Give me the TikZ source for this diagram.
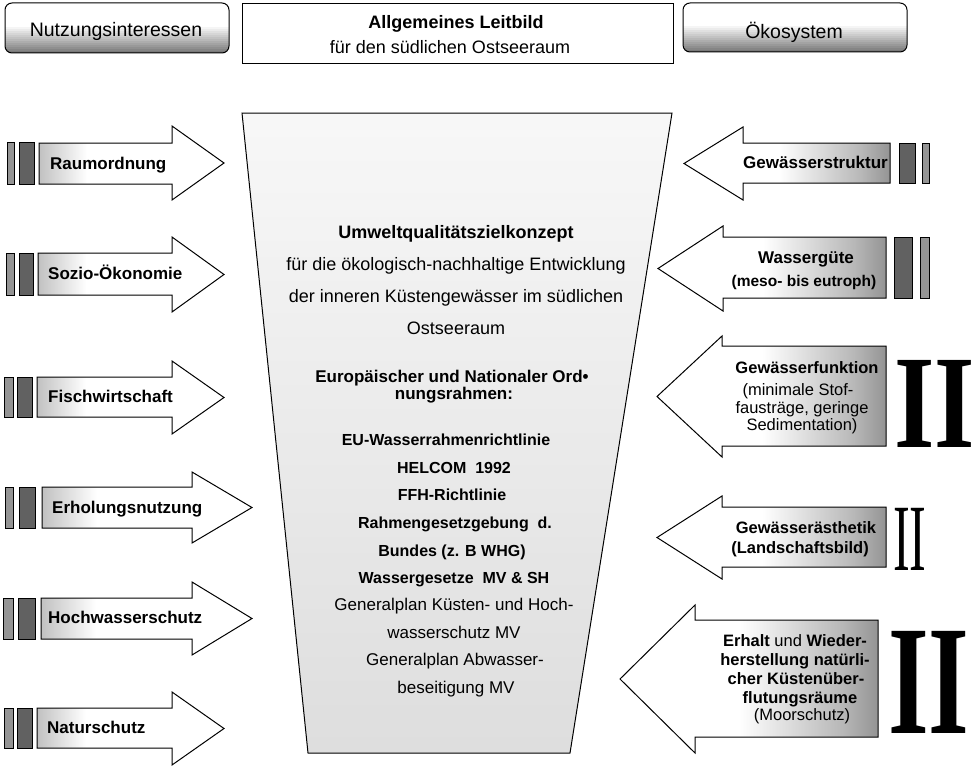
\documentclass[tikz,border=0pt]{standalone}
\usepackage{fontspec}
\setmainfont{Liberation Sans}
\newfontfamily\romanI{Liberation Serif}

% fills: dark edge fading to white, used for the arrows
\pgfdeclarehorizontalshading{fadeleft}{100bp}{color(0bp)=(black!85); color(9bp)=(black!65); color(22bp)=(black!30); color(38bp)=(white); color(100bp)=(white)}
\pgfdeclarehorizontalshading{faderight}{100bp}{color(0bp)=(white); color(48bp)=(white); color(68bp)=(black!28); color(85bp)=(black!62); color(100bp)=(black!82)}

% block arrow pointing right: shaft x0, head base x, tip x, shaft top, shaft bottom, head top, head bottom
\newcommand\pointright[7]{%
  \shadedraw[outline, shading=fadeleft] (#1,#4) -- (#2,#4) -- (#2,#6) -- (#3,{(#6+#7)/2}) -- (#2,#7) -- (#2,#5) -- (#1,#5) -- cycle;}
% block arrow pointing left: shaft right x, head base x, tip x, shaft top, shaft bottom, head top, head bottom
\newcommand\pointleft[7]{%
  \shadedraw[outline, shading=faderight] (#1,#4) -- (#2,#4) -- (#2,#6) -- (#3,{(#6+#7)/2}) -- (#2,#7) -- (#2,#5) -- (#1,#5) -- cycle;}
% rounded header box, white above and darkening towards its lower edge
\newcommand\headerbox[4]{% left, top, right, bottom
  \begin{scope}
    \clip[rounded corners=7pt] (#1,#2) rectangle (#3,#4);
    \fill[white] (#1,#2) rectangle (#3,#4);
    \foreach \i in {0,...,13}{%
      \pgfmathtruncatemacro\g{4*\i}%
      \fill[black!\g] (#1,{#4-28+2*\i}) rectangle (#3,{#4-25.5+2*\i});}
  \end{scope}
  \draw[outline, rounded corners=7pt] (#1,#2) rectangle (#3,#4);}

\begin{document}
\begin{tikzpicture}[x=1pt,y=-1pt,
  outline/.style={draw=black, line width=1pt, line join=miter},
  bar/.style={draw=black, line width=0.8pt},
  darkbar/.style={bar, fill=black!62},
  lightbar/.style={bar, fill=black!42},
  txt/.style={inner sep=0pt, anchor=base},
  arrowtext/.style={txt, font=\bfseries\fontsize{17}{19}\selectfont},
  sidebold/.style={txt, font=\bfseries\fontsize{16.5}{19}\selectfont},
  sidetext/.style={txt, font=\fontsize{16.5}{19}\selectfont},
  headbold/.style={txt, font=\bfseries\fontsize{18}{20}\selectfont},
  headtext/.style={txt, font=\fontsize{18}{20}\selectfont},
  listbold/.style={txt, font=\bfseries\fontsize{16}{18}\selectfont},
  listtext/.style={txt, font=\fontsize{17}{19}\selectfont},
  numeral/.style={inner sep=0pt, anchor=base west}
]
\useasboundingbox (0,0) rectangle (976,768);

% header row
\headerbox{5}{3}{229}{53}
\node[txt, font=\fontsize{19.5}{22}\selectfont] (nutz) at (116,37) {Nutzungsinteressen};
\draw[outline, fill=white] (242,4) rectangle (673,63);
\node[headbold] (leitA) at (456,29) {Allgemeines Leitbild};
\node[headtext] (leitB) at (450,53) {für den südlichen Ostseeraum};
\headerbox{683}{3}{907}{52}
\node[txt, font=\fontsize{19.5}{22}\selectfont] (oeko) at (794,38) {Ökosystem};

% central funnel, very light grey getting slightly darker downwards
\begin{scope}
  \clip (242,113) -- (672,113) -- (570,753) -- (308,753) -- cycle;
  \foreach \i in {0,...,79}{%
    \pgfmathsetmacro\g{3+10*\i/79}%
    \fill[black!\g] (230,{113+8*\i}) rectangle (690,{121.5+8*\i});}
\end{scope}
\draw[outline] (242,113) -- (672,113) -- (570,753) -- (308,753) -- cycle;
\node[headbold] (f1) at (456,238) {Umweltqualitätszielkonzept};
\node[headtext] (f2) at (456,270) {für die ökologisch-nachhaltige Entwicklung};
\node[headtext] (f3) at (456,302) {der inneren Küstengewässer im südlichen};
\node[headtext] (f4) at (456,334) {Ostseeraum};
\node[txt, font=\bfseries\fontsize{17}{19}\selectfont] (f5) at (452,382) {Europäischer und Nationaler Ord•};
\node[txt, font=\bfseries\fontsize{17}{19}\selectfont] (f6) at (454,399) {nungsrahmen:};
\node[listbold] (f7) at (446,445) {EU-Wasserrahmenrichtlinie};
\node[listbold] (f8) at (454,473) {HELCOM\ \ 1992};
\node[listbold] (f9) at (452,500) {FFH-Richtlinie};
\node[listbold] (f10) at (455,528) {Rahmengesetzgebung\ \ d.};
\node[listbold] (f11) at (452,556) {Bundes (z. B WHG)};
\node[listbold] (f12) at (454,583) {Wassergesetze\ \ MV \& SH};
\node[listtext] (f13) at (454,610) {Generalplan Küsten- und Hoch-};
\node[listtext] (f14) at (454,638) {wasserschutz MV};
\node[listtext] (f15) at (455,665) {Generalplan Abwasser-};
\node[listtext] (f16) at (456,693) {beseitigung MV};

% interests: arrows pointing into the funnel
\pointright{39}{172}{224}{143}{184}{126}{200}
\draw[lightbar] (7,142) rectangle (14,184);
\draw[darkbar] (19,142) rectangle (34,184);
\node[arrowtext, anchor=base west] (raum) at (50,169) {Raumordnung};

\pointright{38}{172}{224}{253}{295}{237}{312}
\draw[lightbar] (6,253) rectangle (14,295);
\draw[darkbar] (19,253) rectangle (33,295);
\node[arrowtext, anchor=base west] (sozio) at (48,279) {Sozio-Ökonomie};

\pointright{37}{172}{224}{377}{417}{361}{434}
\draw[lightbar] (4,377) rectangle (13,417);
\draw[darkbar] (17,377) rectangle (32,417);
\node[arrowtext, anchor=base west] (fisch) at (48,402) {Fischwirtschaft};

\pointright{42}{192}{252}{487}{528}{472}{543}
\draw[lightbar] (5,487) rectangle (13,528);
\draw[darkbar] (19,487) rectangle (35,528);
\node[arrowtext, anchor=base west] (erhol) at (52,513) {Erholungsnutzung};

\pointright{41}{192}{252}{598}{639}{582}{655}
\draw[lightbar] (3,598) rectangle (13,639);
\draw[darkbar] (18,598) rectangle (35,639);
\node[arrowtext, anchor=base west] (hoch) at (48,623) {Hochwasserschutz};

\pointright{37}{172}{224}{708}{748}{692}{765}
\draw[lightbar] (4,708) rectangle (13,748);
\draw[darkbar] (17,708) rectangle (32,748);
\node[arrowtext, anchor=base west] (natur) at (47,733) {Naturschutz};

% ecosystem: arrows pointing into the funnel
\pointleft{890}{743}{684}{143}{183}{127}{200}
\draw[darkbar] (899,143) rectangle (915,183);
\draw[lightbar] (922,143) rectangle (929,183);
\node[arrowtext, anchor=base east] (struk) at (888,168) {Gewässerstruktur};

\pointleft{886}{723}{658}{237}{298}{226}{311}
\draw[darkbar] (894,237) rectangle (912,298);
\draw[lightbar] (920,237) rectangle (929,298);
\node[arrowtext] (gueteA) at (806,263) {Wassergüte};
\node[txt, font=\bfseries\fontsize{15.5}{18}\selectfont] (gueteB) at (804,286) {(meso- bis eutroph)};

\pointleft{886}{722}{657}{346}{446}{336}{457}
\node[sidebold] (funkA) at (807,373) {Gewässerfunktion};
\node[sidetext] (funkB) at (798,395) {(minimale Stof-};
\node[sidetext] (funkC) at (802,413) {fausträge, geringe};
\node[sidetext] (funkD) at (802,430) {Sedimentation)};
\node[numeral] (romA) at (894,447) {\scalebox{0.78}[1]{\romanI\bfseries\fontsize{133}{133}\selectfont II}};

\pointleft{886}{722}{657}{507}{567}{496}{579}
\node[sidebold] (aesA) at (806,533) {Gewässerästhetik};
\node[sidebold] (aesB) at (800,553) {(Landschaftsbild)};
\node[numeral] (romB) at (893,570) {\scalebox{0.53}[1]{\romanI\fontsize{95}{95}\selectfont II}};

\pointleft{878}{695}{620}{620}{737}{605}{753}
\node[sidebold] (erhA) at (795,646) {Erhalt \textmd{und} Wieder-};
\node[sidebold] (erhB) at (795,665) {herstellung natürli-};
\node[sidebold] (erhC) at (796,684) {cher Küstenüber-};
\node[sidebold] (erhD) at (800,703) {flutungsräume};
\node[sidetext] (erhE) at (802,720) {(Moorschutz)};
\node[numeral] (romC) at (888,733) {\scalebox{0.67}[1]{\romanI\bfseries\fontsize{156}{156}\selectfont II}};
\end{tikzpicture}
\end{document}
